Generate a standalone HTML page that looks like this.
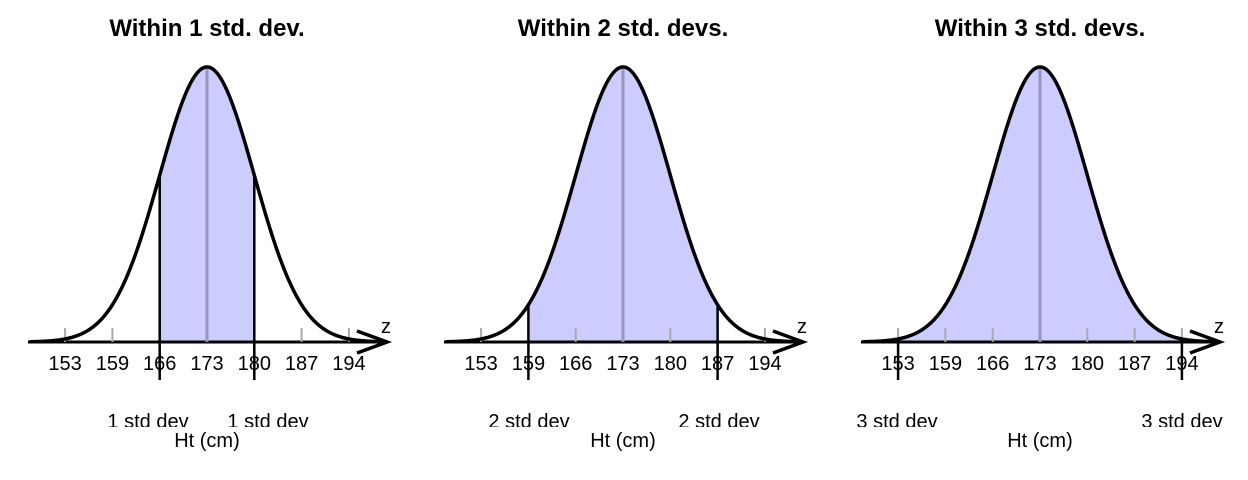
<!DOCTYPE html>
<html><head><meta charset="utf-8"><style>
html,body{margin:0;padding:0;background:#fff;}
svg{display:block;font-family:"Liberation Sans",Arial,sans-serif;}
</style></head><body>
<svg id="c" width="1248" height="480" viewBox="0 0 1248 480" xmlns="http://www.w3.org/2000/svg"></svg>
<script>
const tickLabels = ["153","159","166","173","180","187","194"];
const zValues = [-3,-2,-1,0,1,2,3];
const panelTitles = ["Within 1 std. dev.","Within 2 std. devs.","Within 3 std. devs."];
const shadeK = [1,2,3];
const sdLabels = ["1 std dev","2 std dev","3 std dev"];
const meanHt = 173;
const sdHt = 7;

const NS="http://www.w3.org/2000/svg";
const svg=document.getElementById('c');
function mk(tag,attrs,parent){const e=document.createElementNS(NS,tag);for(const k in attrs)e.setAttribute(k,attrs[k]);(parent||svg).appendChild(e);return e;}
const offsets=[0,416,833];
const labelPos=[[148,268],[529,719],[897,1182]];
const sdPx=47.3, baseY=342, peakY=67;
function pdf(z){return Math.exp(-z*z/2);}
panelTitles.forEach((t,i)=>{
  const g=mk('g',{});
  
  
  const cx=207+offsets[i];
  const xs=z=>cx+z*sdPx;
  const ys=z=>baseY-(baseY-peakY)*pdf(z);
  const k=shadeK[i];
  let d='M'+xs(-k)+','+baseY;
  for(let z=-k;z<=k+1e-9;z+=0.02)d+=' L'+xs(z).toFixed(2)+','+ys(z).toFixed(2);
  d+=' L'+xs(k)+','+baseY+'Z';
  const a=mk('path',{d:d,fill:'#ccccff',stroke:'none'},g);
  
  
  const ax=mk('line',{x1:offsets[i]+28,y1:baseY,x2:offsets[i]+385,y2:baseY,stroke:'#000','stroke-width':3},g);
  
  
  const ar=mk('path',{d:`M${offsets[i]+357},${baseY-11} L${offsets[i]+387},${baseY} L${offsets[i]+357},${baseY+11}`,fill:'none',stroke:'#000','stroke-width':3.5},g);
  
  
  const zl=mk('text',{x:offsets[i]+386,y:333,'font-size':20,'text-anchor':'middle'},g);zl.textContent='z';
  
  
  zValues.forEach((z,j)=>{
    const tk=mk('line',{x1:xs(z),y1:328,x2:xs(z),y2:baseY,stroke:'#aaa','stroke-width':2},g);
    
    
    const tl=mk('text',{x:xs(z),y:370,'font-size':20,'text-anchor':'middle'},g);
    tl.textContent=tickLabels[j];
    
    
  });
  const ml=mk('line',{x1:cx,y1:ys(0)+2,x2:cx,y2:baseY,stroke:'#9595c0','stroke-width':3},g);
  
  
  [-k,k].forEach(z=>{
    const bl=mk('line',{x1:xs(z),y1:ys(z),x2:xs(z),y2:380,stroke:'#000','stroke-width':2.5},g);
    
    
  });
  let c='';
  for(let z=-3.75;z<=3.75+1e-9;z+=0.02)c+=(c?' L':'M')+xs(z).toFixed(2)+','+ys(z).toFixed(2);
  const cv=mk('path',{d:c,fill:'none',stroke:'#000','stroke-width':3.5},g);
  
  
  const tt=mk('text',{x:cx,y:36,'font-size':24,'font-weight':'bold','text-anchor':'middle'},g);
  tt.textContent=t;
  
  
  labelPos[i].forEach(px=>{
    const s=mk('svg',{x:px-70,y:400,width:140,height:27,overflow:'hidden'},g);
    const st=mk('text',{x:70,y:28,'font-size':20,'text-anchor':'middle'},s);
    st.textContent=sdLabels[i];
    
    
  });
  const xl=mk('text',{x:cx,y:447,'font-size':20,'text-anchor':'middle'},g);
  xl.textContent='Ht (cm)';
  
  
});
</script>
</body></html>
